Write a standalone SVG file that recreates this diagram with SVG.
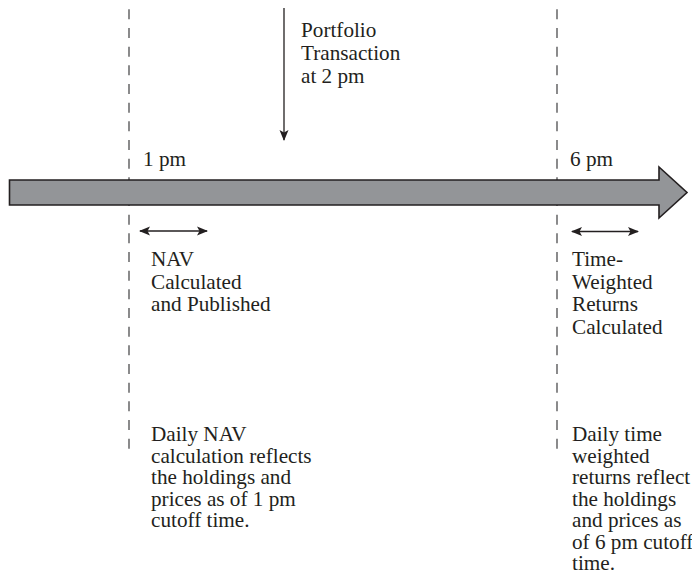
<svg xmlns="http://www.w3.org/2000/svg" width="692" height="582" viewBox="0 0 692 582">
  <style>
    .t { font-family: "Liberation Serif", "Times New Roman", serif; font-size: 21.2px; fill: #231f20; }
    .dash { stroke: #4d4d4f; stroke-width: 1.3; stroke-dasharray: 10 8.67; fill: none; }
    .conn { stroke: #231f20; stroke-width: 1.3; fill: none; }
  </style>
  <defs>
    <marker id="ah" viewBox="0 0 11 10" refX="10" refY="5" markerWidth="11" markerHeight="10" markerUnits="userSpaceOnUse" orient="auto-start-reverse">
      <path d="M0,0.5 L11,5 L0,9.5 L2.5,5 Z" fill="#231f20"/>
    </marker>
  </defs>
  <rect width="692" height="582" fill="#ffffff"/>

  <g id="cutoff-lines">
    <line class="dash" x1="129" y1="9.3" x2="129" y2="449"/>
    <line class="dash" x1="557" y1="9.3" x2="557" y2="449"/>
  </g>

  <g id="timeline">
    <path d="M9.5,180 L659,180 L659,167 L687,192.5 L659,218 L659,205 L9.5,205 Z" fill="#939598" stroke="#231f20" stroke-width="1.6" stroke-linejoin="miter"/>
  </g>

  <g id="connectors">
    <line class="conn" x1="284" y1="8" x2="284" y2="140" marker-end="url(#ah)"/>
    <line class="conn" x1="140" y1="231" x2="207" y2="231" marker-start="url(#ah)" marker-end="url(#ah)"/>
    <line class="conn" x1="572" y1="231.5" x2="638" y2="231.5" marker-start="url(#ah)" marker-end="url(#ah)"/>
  </g>

  <g id="portfolio-transaction">
    <text class="t" x="301" y="37">Portfolio</text>
    <text class="t" x="301" y="60">Transaction</text>
    <text class="t" x="301" y="83">at 2 pm</text>
  </g>

  <g id="label-1pm">
    <text class="t" x="143" y="166">1 pm</text>
  </g>
  <g id="label-6pm">
    <text class="t" x="570" y="166">6 pm</text>
  </g>

  <g id="nav-calculated">
    <text class="t" x="151" y="266">NAV</text>
    <text class="t" x="151" y="288.5">Calculated</text>
    <text class="t" x="151" y="311">and Published</text>
  </g>

  <g id="twr-calculated">
    <text class="t" x="572" y="266">Time-</text>
    <text class="t" x="572" y="288.5">Weighted</text>
    <text class="t" x="572" y="311">Returns</text>
    <text class="t" x="572" y="333.5">Calculated</text>
  </g>

  <g id="nav-note">
    <text class="t" x="151" y="441">Daily NAV</text>
    <text class="t" x="151" y="462.5">calculation reflects</text>
    <text class="t" x="151" y="484">the holdings and</text>
    <text class="t" x="151" y="505.5">prices as of 1 pm</text>
    <text class="t" x="151" y="527">cutoff time.</text>
  </g>

  <g id="twr-note">
    <text class="t" x="572" y="441">Daily time</text>
    <text class="t" x="572" y="462.5">weighted</text>
    <text class="t" x="572" y="484">returns reflect</text>
    <text class="t" x="572" y="505.5">the holdings</text>
    <text class="t" x="572" y="527">and prices as</text>
    <text class="t" x="572" y="548.5">of 6 pm cutoff</text>
    <text class="t" x="572" y="570">time.</text>
  </g>
</svg>
